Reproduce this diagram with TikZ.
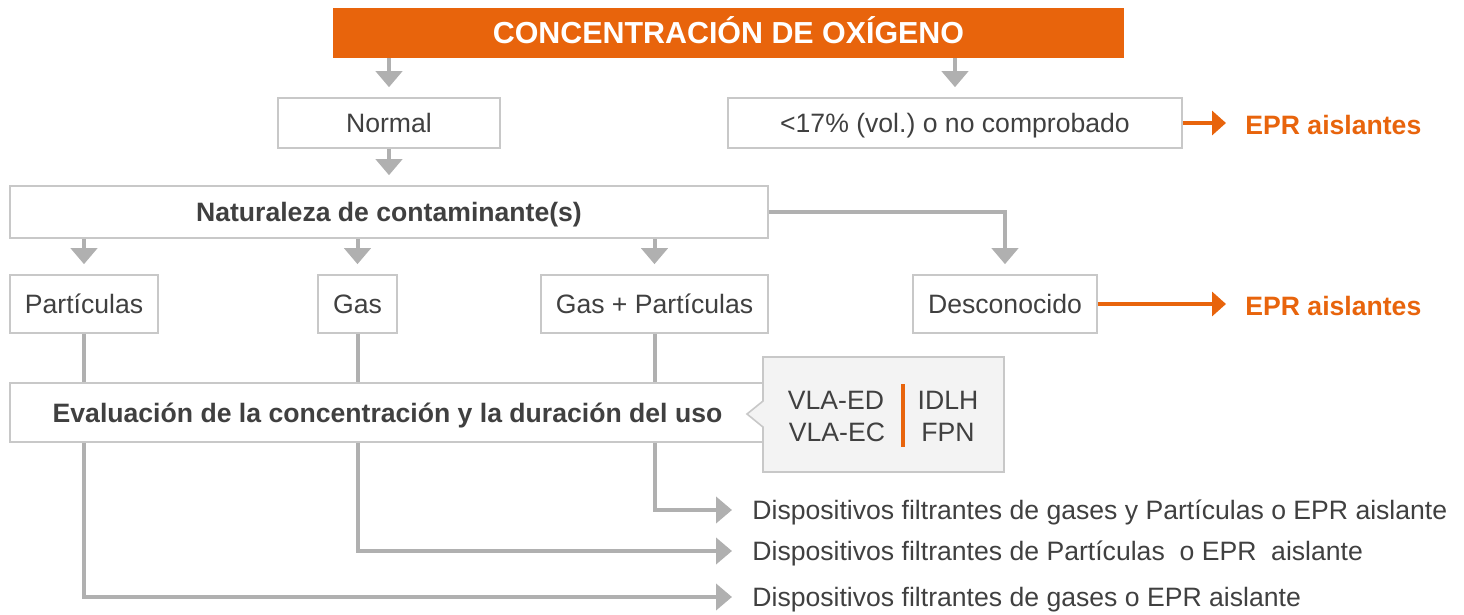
\documentclass[tikz,border=0pt]{standalone}
\usepackage{fontspec}
\setmainfont{Liberation Sans}
\usetikzlibrary{arrows.meta,shapes.callouts}
\definecolor{orng}{HTML}{E8640C}
\definecolor{txtgray}{HTML}{404040}
\definecolor{boxgray}{HTML}{C8C8C8}
\definecolor{arrgray}{HTML}{B0B0B0}
\definecolor{fillgray}{HTML}{F3F3F3}
\frenchspacing

\begin{document}
\begin{tikzpicture}[x=0.5pt, y=-0.5pt,
        every node/.style={text=txtgray, font=\fontsize{13.3}{16}\selectfont, text height=9.6pt, text depth=0pt},
        box/.style={draw=boxgray, line width=0.8pt, fill=white, inner sep=0pt},
        flow/.style={draw=arrgray, line width=2pt, -{Triangle[width=13pt,length=8pt]}, shorten >=5pt},
        line/.style={draw=arrgray, line width=2pt},
        hot/.style={draw=orng, line width=2pt, -{Triangle[width=12pt,length=7pt]}, shorten >=9.5pt},
        epr/.style={anchor=west, inner sep=0pt, text=orng, font=\fontsize{13.3}{16}\selectfont\bfseries},
        result/.style={anchor=west, inner sep=0pt}]
            \useasboundingbox (0,0) rectangle (1464,615);

            % Nodes
            \node[fill=orng, inner sep=0pt, minimum width=395.5pt, minimum height=25pt, text height=10.9pt,
                text=white, font=\fontsize{15.2}{18}\selectfont\bfseries] (oxy) at (728.5,33) {CONCENTRACIÓN DE OXÍGENO};
            \node[box, minimum width=111pt, minimum height=25pt] (normal) at (389,123) {Normal};
            \node[box, minimum width=227pt, minimum height=25pt] (low) at (955,123) {<17\% (vol.) o no comprobado};
            \node[epr] (epr1) at (1245,125) {EPR aislantes};

            \node[box, minimum width=379pt, minimum height=26pt, font=\fontsize{13.3}{16}\selectfont\bfseries] (nat) at (389,212) {Naturaleza de contaminante(s)};
            \node[box, minimum width=74pt, minimum height=29pt] (part) at (84,304) {Partículas};
            \node[box, minimum width=39.5pt, minimum height=29pt] (gas) at (357.5,304) {Gas};
            \node[box, minimum width=113.5pt, minimum height=29pt] (gaspart) at (654.5,304) {Gas + Partículas};
            \node[box, minimum width=92pt, minimum height=29pt] (desc) at (1005,304) {Desconocido};
            \node[epr] (epr2) at (1245,306) {EPR aislantes};

            % Edges (behind the evaluation box)
            \draw[line] (part.south) -- (part.south |- 0,412);
            \draw[line] (gas.south) -- (gas.south |- 0,412);
            \draw[line] (gaspart.south) -- (gaspart.south |- 0,412);

            \node[box, minimum width=377.5pt, minimum height=29.5pt, font=\fontsize{13.3}{16}\selectfont\bfseries] (eval) at (387.5,412.5) {Evaluación de la concentración y la duración del uso};
            \node[rectangle callout, draw=boxgray, line width=0.8pt, fill=fillgray, minimum width=120.5pt, minimum height=57.5pt,
                callout absolute pointer={(747,414)}, callout pointer width=13pt] (limits) at (883.5,414.5) {};
            \node (vlaed) at (836,400) {VLA-ED};
            \node (vlaec) at (837,432) {VLA-EC};
            \node (idlh) at (948,400) {IDLH};
            \node (fpn) at (948,432) {FPN};
            \draw[orng, line width=2pt] (903,384) -- (903,447);

            \node[result] (out1) at (752,510) {Dispositivos filtrantes de gases y Partículas o EPR aislante};
            \node[result] (out2) at (752,551) {Dispositivos filtrantes de Partículas\ \ o EPR\ \ aislante};
            \node[result] (out3) at (752,597) {Dispositivos filtrantes de gases o EPR aislante};

            % Edges
            \draw[flow] (oxy.south -| normal) -- (normal.north);
            \draw[flow] (oxy.south -| low) -- (low.north);
            \draw[hot] (low.east) -- (epr1.west |- low.east);
            \draw[flow] (normal.south) -- (nat.north);
            \draw[flow] (nat.south -| part) -- (part.north);
            \draw[flow] (nat.south -| gas) -- (gas.north);
            \draw[flow] (nat.south -| gaspart) -- (gaspart.north);
            \draw[flow] (nat.east) -| (desc.north);
            \draw[hot] (desc.east) -- (epr2.west |- desc.east);
            \draw[flow, shorten >=10pt] (eval.south -| gaspart) |- (out1.west);
            \draw[flow, shorten >=10pt] (eval.south -| gas) |- (out2.west);
            \draw[flow, shorten >=10pt] (eval.south -| part) |- (out3.west);
        \end{tikzpicture}
\end{document}
